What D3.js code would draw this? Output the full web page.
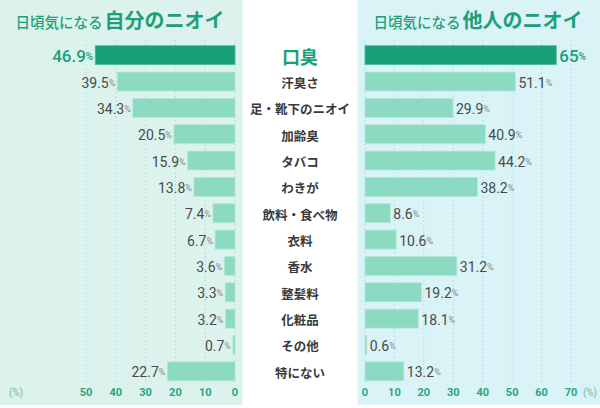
<!DOCTYPE html>
<html><head><meta charset="utf-8">
<script src="https://cdn.jsdelivr.net/npm/d3@7"></script>
<style>body{margin:0;background:#fff}svg{display:block}</style>
</head><body>
<svg id="c" width="600" height="408"></svg>
<script>
const categories = ["口臭","汗臭さ","足・靴下のニオイ","加齢臭","タバコ","わきが","飲料・食べ物","衣料","香水","整髪料","化粧品","その他","特にない"];
const selfValues = [46.9,39.5,34.3,20.5,15.9,13.8,7.4,6.7,3.6,3.3,3.2,0.7,22.7];
const otherValues = [65,51.1,29.9,40.9,44.2,38.2,8.6,10.6,31.2,19.2,18.1,0.6,13.2];
const leftTicks = [0,10,20,30,40,50];
const rightTicks = [0,10,20,30,40,50,60,70];

const svg = d3.select("#c");
const JP = "'Noto Sans CJK JP','Noto Sans',sans-serif";
const NUM = "Roboto,'Noto Sans',sans-serif";
const green = "#17a078", light = "#8cdac1";

svg.append("rect").attr("x",0).attr("y",0).attr("width",242.5).attr("height",405).attr("fill","#dcf3ed");
svg.append("rect").attr("x",357.5).attr("y",0).attr("width",242.5).attr("height",405).attr("fill","#d9f3f7");

const xL = d3.scaleLinear().domain([0,50]).range([235,86]);
const xR = d3.scaleLinear().domain([0,70]).range([365,571]);
const y = d3.scaleBand().domain(categories).range([42,384.5]).paddingInner(0.28).paddingOuter(0.14);

// grid
const gridTop = 40, gridBot = 382;
svg.append("g").selectAll("line").data(leftTicks).join("line")
  .attr("x1",d=>xL(d)).attr("x2",d=>xL(d)).attr("y1",gridTop).attr("y2",gridBot)
  .attr("stroke","#a9dbe4").attr("stroke-width",1).attr("stroke-dasharray","1.5,2.5");
svg.append("g").selectAll("line").data(rightTicks).join("line")
  .attr("x1",d=>xR(d)).attr("x2",d=>xR(d)).attr("y1",gridTop).attr("y2",gridBot)
  .attr("stroke","#a9dbe4").attr("stroke-width",1).attr("stroke-dasharray","1.5,2.5");

// titles
function title(cx, big){
  const t = svg.append("text").attr("x",cx).attr("y",28).attr("text-anchor","middle")
    .attr("font-family",JP).attr("font-weight",500).attr("fill","#1f9e7a");
  t.append("tspan").attr("font-size",14.5).text("日頃気になる");
  t.append("tspan").attr("font-size",20).attr("font-weight",700).attr("dx",2).text(big);
}
title(120,"自分のニオイ");
title(478,"他人のニオイ");

// bars
svg.append("g").selectAll("rect").data(selfValues).join("rect")
  .attr("x",d=>xL(d)).attr("width",d=>xL(0)-xL(d))
  .attr("y",(d,i)=>y(categories[i])).attr("height",y.bandwidth())
  .attr("fill",(d,i)=>i===0?green:light)
  .attr("stroke",(d,i)=>i===0?"#4fbf9c":"#b3e8d6").attr("stroke-width",0.8);
svg.append("g").selectAll("rect").data(otherValues).join("rect")
  .attr("x",xR(0)).attr("width",d=>xR(d)-xR(0))
  .attr("y",(d,i)=>y(categories[i])).attr("height",y.bandwidth())
  .attr("fill",(d,i)=>i===0?green:light)
  .attr("stroke",(d,i)=>i===0?"#4fbf9c":"#b3e8d6").attr("stroke-width",0.8);

// value labels
function valLabel(g, x, yy, v, i, anchor){
  const t = g.append("text").attr("x",x).attr("y",yy).attr("text-anchor",anchor)
    .attr("dominant-baseline","central").attr("font-family",NUM);
  if(i===0){
    t.attr("fill","#1a9e78").attr("font-weight",500);
    t.append("tspan").attr("font-size",17).text(v);
    t.append("tspan").attr("font-size",10).text("%");
  } else {
    t.attr("fill","#4a4a4a");
    t.append("tspan").attr("font-size",14).text(v);
    t.append("tspan").attr("font-size",9).attr("fill","#888").text("%");
  }
}
const gl = svg.append("g");
selfValues.forEach((v,i)=>valLabel(gl, xL(v)-2, y(categories[i])+y.bandwidth()/2+1, v, i, "end"));
otherValues.forEach((v,i)=>valLabel(gl, xR(v)+3, y(categories[i])+y.bandwidth()/2+1, v, i, "start"));

// category labels
svg.append("g").selectAll("text").data(categories).join("text")
  .attr("x",300).attr("y",d=>y(d)+y.bandwidth()/2+1).attr("text-anchor","middle")
  .attr("dominant-baseline","central").attr("font-family",JP).attr("font-weight",700)
  .attr("font-size",(d,i)=>i===0?18:12.5).attr("fill",(d,i)=>i===0?"#1a9e78":"#3a3a3a")
  .text(d=>d);

// axes ticks
const tickY = 392;
svg.append("g").selectAll("text").data(leftTicks).join("text")
  .attr("x",d=>xL(d)).attr("y",tickY).attr("text-anchor","middle").attr("dominant-baseline","central")
  .attr("font-family",NUM).attr("font-weight",700).attr("font-size",11).attr("fill","#2aa57f").text(d=>d);
svg.append("g").selectAll("text").data(rightTicks).join("text")
  .attr("x",d=>xR(d)).attr("y",tickY).attr("text-anchor","middle").attr("dominant-baseline","central")
  .attr("font-family",NUM).attr("font-weight",700).attr("font-size",11).attr("fill","#2aa57f").text(d=>d);
svg.append("text").attr("x",16).attr("y",tickY).attr("text-anchor","middle").attr("dominant-baseline","central")
  .attr("font-family",NUM).attr("font-size",10).attr("fill","#6cbfa5").text("(%)");
svg.append("text").attr("x",590).attr("y",tickY).attr("text-anchor","middle").attr("dominant-baseline","central")
  .attr("font-family",NUM).attr("font-size",10).attr("fill","#6cbfa5").text("(%)");
</script>
</body></html>
